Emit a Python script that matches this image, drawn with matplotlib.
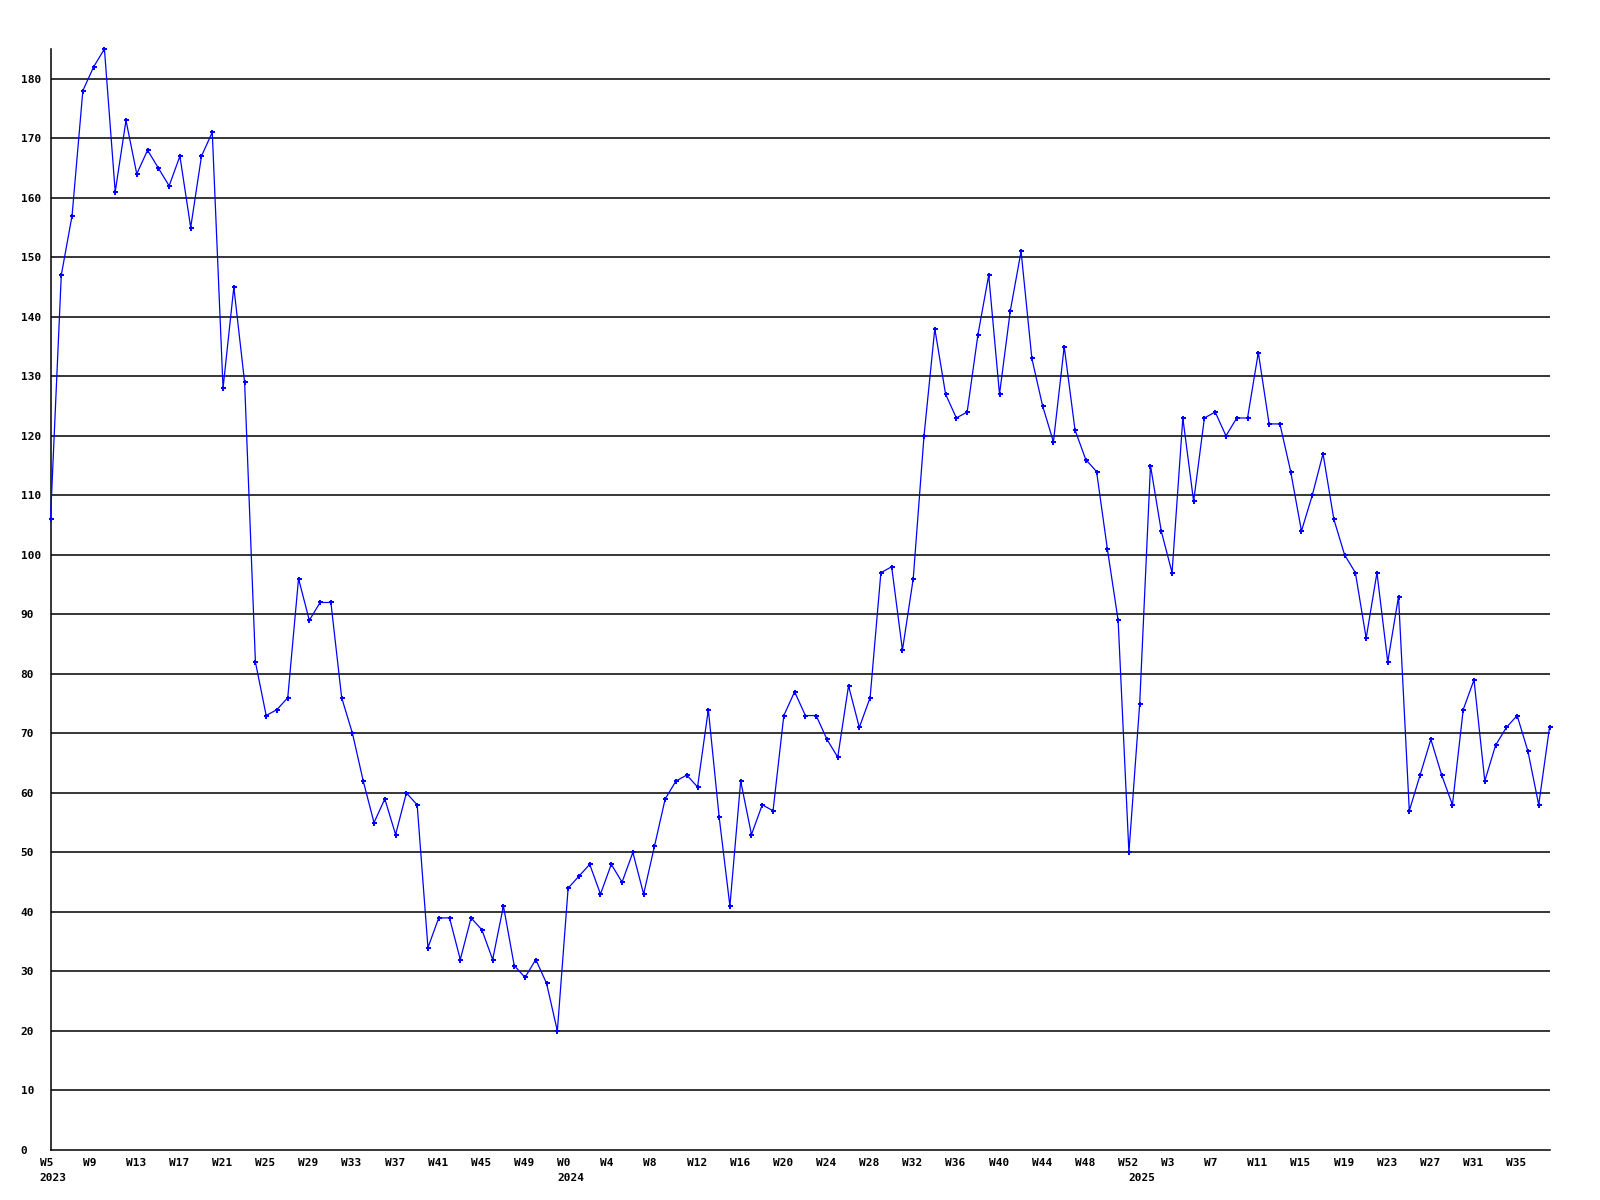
import matplotlib
matplotlib.use("Agg")
import matplotlib.pyplot as plt
import matplotlib.transforms as mtransforms
import numpy as np

values = [106, 147, 157, 178, 182, 185, 161, 173, 164, 168, 165, 162, 167, 155, 167, 171, 128, 145, 129, 82,
          73, 74, 76, 96, 89, 92, 92, 76, 70, 62, 55, 59, 53, 60, 58, 34, 39, 39, 32, 39,
          37, 32, 41, 31, 29, 32, 28, 20, 44, 46, 48, 43, 48, 45, 50, 43, 51, 59, 62, 63,
          61, 74, 56, 41, 62, 53, 58, 57, 73, 77, 73, 73, 69, 66, 78, 71, 76, 97, 98, 84,
          96, 120, 138, 127, 123, 124, 137, 147, 127, 141, 151, 133, 125, 119, 135, 121, 116, 114, 101, 89,
          50, 75, 115, 104, 97, 123, 109, 123, 124, 120, 123, 123, 134, 122, 122, 114, 104, 110, 117, 106,
          100, 97, 86, 97, 82, 93, 57, 63, 69, 63, 58, 74, 79, 62, 68, 71, 73, 67, 58, 71]

week_labels = ["W5", "W9", "W13", "W17", "W21", "W25", "W29", "W33", "W37", "W41", "W45", "W49",
               "W0", "W4", "W8", "W12", "W16", "W20", "W24", "W28", "W32", "W36", "W40", "W44", "W48", "W52",
               "W3", "W7", "W11", "W15", "W19", "W23", "W27", "W31", "W35"]
year_labels = ["2023", "2024", "2025"]
year_start_week_index = [0, 48, 101]   # index of first week of each year in the series

y_ticks = list(range(0, 190, 10))

FONT = {"family": "DejaVu Sans Mono", "weight": "bold", "size": 8}

fig = plt.figure(figsize=(16, 12), dpi=100)
W, H = 1600, 1200
left, right, top, bottom = 50.5, 1549.5, 49, 1150
ax = fig.add_axes([left / W, (H - bottom) / H, (right - left) / W, (bottom - top) / H])

x = np.arange(len(values))
ax.set_xlim(0, len(values) - 1)
ax.set_ylim(0, max(values))

# gridlines
for v in y_ticks[1:]:
    ax.axhline(v, color="black", linewidth=1.1, zorder=1)

ax.plot(x, values, color="#0000ff", linewidth=0.9, marker="P", markersize=3.6,
        markeredgewidth=0, zorder=3, clip_on=False)

for s in ["top", "right"]:
    ax.spines[s].set_visible(False)
for s in ["left", "bottom"]:
    ax.spines[s].set_color("black")
    ax.spines[s].set_linewidth(1.1)

ax.set_yticks(y_ticks)
ax.set_yticklabels([str(v) for v in y_ticks], fontdict=FONT)
ax.tick_params(axis="y", length=0, pad=21.5)
for lab in ax.get_yticklabels():
    lab.set_horizontalalignment("left")

tick_pos = [i * 4 for i in range(len(week_labels))]
ax.set_xticks(tick_pos)
ax.set_xticklabels(week_labels, fontdict=FONT)
ax.tick_params(axis="x", length=0, pad=6)
shift = mtransforms.ScaledTranslation(-11 / 100, 0, fig.dpi_scale_trans)
for lab in ax.get_xticklabels():
    lab.set_horizontalalignment("left")
    lab.set_transform(lab.get_transform() + shift)

# year labels below the week labels
trans = mtransforms.blended_transform_factory(ax.transData, ax.transAxes)
for yl, xp in zip(year_labels, year_start_week_index):
    off = mtransforms.offset_copy(trans, fig=fig, x=-11 * 0.72, y=-16.8, units="points")
    ax.text(xp, 0, yl, transform=off, ha="left", va="top", **FONT)

fig.savefig("out.png", dpi=100, facecolor="white")
